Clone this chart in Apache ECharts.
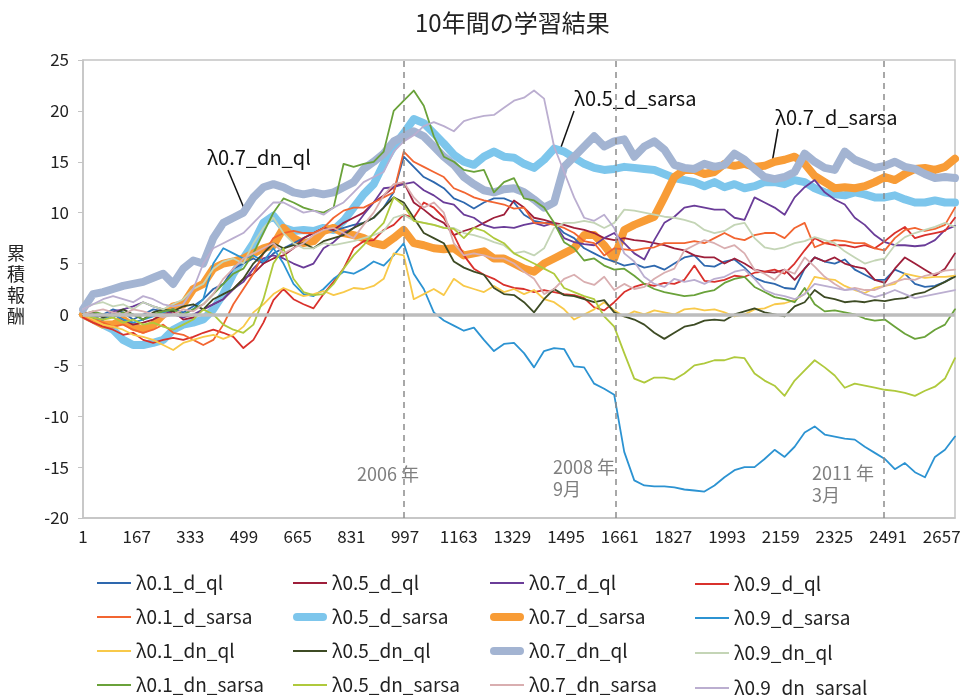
<!DOCTYPE html>
<html>
<head>
<meta charset="utf-8">
<title>10年間の学習結果</title>
<script src="https://cdn.jsdelivr.net/npm/echarts@6/dist/echarts.min.js"></script>
<style>
  html, body { margin: 0; padding: 0; background: #fff; }
  #chart { width: 968px; height: 695px; }
</style>
</head>
<body>
<div id="chart"></div>
<script>
// sampled trading days (1 based), one sample every 31 days
const days = [1,32,63,94,125,156,187,218,249,280,311,342,373,404,435,466,497,528,559,590,621,652,683,714,745,776,807,838,869,900,931,962,993,1024,1055,1086,1117,1148,1179,1210,1241,1272,1303,1334,1365,1396,1427,1458,1489,1520,1551,1582,1613,1644,1675,1706,1737,1768,1799,1830,1861,1892,1923,1954,1985,2016,2047,2078,2109,2140,2171,2202,2233,2264,2295,2326,2357,2388,2419,2450,2481,2512,2543,2574,2605,2636,2667,2698]

const d_ql_01 = [0,-0.3,0,0.5,0.2,-0.5,0,0.5,0.3,0.5, 0.2,0.8,1.5,2.5,3,4.5,5,5.5,5,6, 6.5,7,7.5,8,8.5,8.2,8.5,8.8,9,9.5, 10.5,12,15.5,14.5,13.5,13,12.4,11.4,11,10.4, 11,11.4,11.4,11,9.8,9.2,9,9,8,7.5, 6.5,6,5.5,5.2,4.8,5,4.6,4.8,4.4,5, 5.6,5.8,4.8,4.7,5.2,5.4,4.6,3.6,3.2,3, 2.6,2.5,4.5,5.6,5.2,5,5.4,4.4,3.9,3.4, 3.4,4.4,4,3,2.7,2.8,3.2,3.8]
const d_ql_05 = [0,-0.3,-0.5,0,-0.5,-1,-0.8,-0.5,0,0.3, -0.5,-0.3,0.5,1,1.5,2.5,3.5,4,5,5.5, 5.8,6.5,7.5,8,8.5,8.3,9,9.5,10,11, 11.7,12.5,13,11,10.3,9.5,9,7.8,8.2,8.5, 9,9.5,9.8,11.2,10.5,9.5,9.3,9,8.8,8.5, 8.3,8,7.5,7.3,7.5,7.3,7.2,7,6.8,6.5, 6.3,5.8,5.6,5.6,5,5.5,5,4.4,4.2,4.1, 4.4,3.4,4.5,5.6,5.2,5.6,5,4.7,4.5,3.4, 3.1,4.5,5.6,5,4.4,3.8,4.5,6]
const d_ql_07 = [0,0.2,-0.3,0.3,0.5,0.8,1.2,0.8,0.5,0, -0.3,0,0.5,1,1.5,2.5,3.2,4.5,5.5,5.8, 5.5,5,4.6,5,6.5,7.1,8,8.5,9.8,11, 12.4,12.5,12.8,13,12.2,11.7,11,10.8,9.8,9.5, 8.8,8.5,8.6,8.5,8.8,9,8.7,9,7.5,7.1, 6.9,6.8,7.5,8,7,6,5.4,7.3,9,9.6, 10.5,10.7,10.5,10.3,10.3,9.5,9.3,11.5,11,10.5, 9.8,11.5,12.5,13.2,12,11.3,10.8,9.5,8.8,7.8, 7.1,6.8,6.8,6.7,6.8,7.3,8.3,8.7]
const d_ql_09 = [-0.3,-0.8,-1.2,-1.5,-2,-1.8,-2.5,-2.8,-2.5,-2.3, -2.5,-2.2,-1.8,-1.5,-1.8,-2.2,-3.3,-2.5,-0.8,1.4, 2.5,1.5,1,0.6,2,3.2,4.5,6.5,7.2,7.3, 8.3,8.8,9.8,9.5,11,10.5,9.5,7.8,5.8,4.5, 3.9,3.5,2.9,2.6,2.5,2.2,2.4,2.2,2,1.9, 1.6,0.7,0.4,1.2,2.2,2.7,3,2.8,3.1,3, 3.4,4.8,3.3,3.2,3.4,3.8,3.7,4.1,4.2,4.4, 4,5,6.3,7.5,7,6.8,6.8,6.6,6.8,6.5, 7.2,8,8.6,7.5,7.8,8,8.2,9.5]
const d_sarsa_01 = [0,-0.5,-0.8,-1.2,-1,-1.5,-1.8,-1.5,-1,-1.8, -2,-2.5,-3,-2.5,-1,1,2.5,4,6,7.5, 8,8.2,8,8,8.5,9.5,10.2,10.5,10.5,11, 11.5,12,16,15,14.5,14,13.5,12.4,12,11.5, 11.2,11,10.8,10.4,10.5,9,9,8.8,8.5,8, 7.2,7,5.8,6.5,6.4,6.3,6.5,6.6,7,7, 7,7.2,7,7.5,8,7.5,7.3,7.8,8,8, 7.5,8.5,9,6.6,7,7.3,7.2,7,7,6.5, 6.3,7.5,8.3,8.5,8.2,8.4,8.8,10.5]
const d_sarsa_05 = [0,-0.5,-1,-1.5,-2.5,-3,-3,-2.8,-2.5,-1.5, -1,-0.8,-0.5,0.5,2,4,5.5,7,9,9.7, 8.5,8.2,8.3,8.2,8.5,8.3,9.2,10.5,11.8,12.8, 14.8,16.5,17.8,19.2,18.8,17.8,16.8,15.7,15,14.7, 15.5,16,15.5,15.4,14.8,14.4,15.2,16.3,16,15.4, 14.8,14.4,14.2,14.3,14.5,14.4,14.3,14.2,13.8,13.4, 13.2,13,12.6,13,12.5,12.8,12.4,12.6,13,13, 12.8,13.2,13,12.4,12,11.8,11.7,12,11.8,11.5, 11.5,11.7,11.3,11,11,11.2,11,11]
const d_sarsa_07 = [0,-0.5,-1,-1,-0.5,-1.2,-1.5,-1,0,0.8, 1,2.5,3,4.5,5,5.2,5.5,6,6.5,6.8, 8.5,7.5,7,7.2,8.2,8.5,8,7.8,7.5,7, 6.8,7.5,8.3,7,6.8,6.5,6.4,6.5,5.8,6, 6.2,5.5,5.5,5,4.5,4.2,5,5.5,6,6.5, 7.8,7.8,6.8,5.5,8.3,8.8,9.2,9.6,11.5,13.5, 14.2,14.2,13.8,14,14.8,14.6,14.8,14.5,14.6,15, 15.2,15.5,14.8,13.6,13,12.4,12.5,12.4,12.6,13, 13.5,13.2,13.8,14.3,14.4,14.2,14.5,15.3]
const d_sarsa_09 = [0,-0.3,-0.5,0,-0.5,-0.8,-0.5,-0.2,0.2,0.5, 0,0.5,1.5,5,6.5,6,5.5,5.8,5.2,6.5, 5,3,2,1.8,2.5,3.5,4.2,4,4.5,5.2, 4.8,5.8,7,4,2.5,0.2,-0.6,-1.1,-1.6,-1.3, -2.5,-3.6,-2.9,-2.8,-3.8,-5.2,-3.6,-3.3,-3.4,-5.1, -5.2,-6.8,-7.3,-7.9,-13.5,-16.3,-16.8,-16.9,-16.9,-17, -17.2,-17.3,-17.4,-16.8,-16,-15.3,-15,-15,-14.2,-13.3, -14,-13,-11.6,-11,-11.8,-12,-12.2,-12.3,-13,-13.6, -14.2,-15.2,-14.6,-15.5,-16,-14,-13.3,-12]
const dn_ql_01 = [0,-0.5,-1,-1.2,-1.5,-2,-2.2,-2.5,-3,-3.5, -2.8,-2.5,-2.2,-2,-2.4,-2,-1.2,0.2,1,2, 2.6,2.2,1.8,2,2.3,1.9,2.2,2.6,2.5,2.8, 3.5,6,5.8,1.5,2,2.5,1.9,3.5,2.8,2.5, 2.2,2.8,2.2,2.5,2,2.4,1.5,1.2,0.5,-0.5, 0,0.5,1.2,0.4,-0.2,0.3,0,0.4,0.2,0, 0.5,0.6,0.4,0.5,0.2,-0.2,0,0.5,0.6,1, 1.1,1.4,2,3.7,3.5,3.4,2.8,2.4,2.1,2.6, 2.8,3,4,3.8,3.6,3.7,3.7,3.8]
const dn_ql_05 = [0,0.2,-0.3,0,0.5,0,-0.5,0.2,0.5,0.3, 0.8,1,0.5,1.5,2,2.5,3.5,5,6,7, 6.5,6.8,7,6.5,7.2,7.5,7.8,8.5,9,9.5, 10.5,11.5,11,9.5,8,7.5,7,5.2,4.6,4.2, 3.9,2.6,2,1.9,1.2,0.2,1.5,2.5,1.9,1.8, 1.5,1.2,1.4,0.2,-0.2,-0.5,-1,-1.8,-2.4,-1.8, -1.2,-1,-0.6,-0.5,-0.6,0,0.3,0.6,0.2,0, -0.2,0.8,1.2,2.4,1.7,1.5,1.2,1.3,1.2,1.4, 1.3,1.5,1.6,2,2.2,2.7,3.2,3.7]
const dn_ql_07 = [0.5,2,2.2,2.5,2.8,3,3.2,3.6,4,3, 4.5,5.3,5,7.5,9,9.5,10,11.5,12.5,12.8, 12.5,12,11.8,12,11.8,12,12.5,13,14.3,15, 15.8,17,17.5,18,17.5,16.5,15.5,14.7,13.5,12.8, 12.2,12,12.3,12.4,12,11.3,10.5,11,14.5,15.5, 16.5,17.5,16.5,17,17.2,15.5,16.5,17,16.2,14.7, 14.4,14.3,14.8,14.5,14.7,15.8,15.2,14.3,13.5,13.3, 13.5,14,15.8,15,14.4,14.2,16,15.2,14.8,14.4, 14.6,15,14.5,14.3,13.8,13.4,13.5,13.4]
const dn_ql_09 = [0.5,1,1.2,0.8,1,0.5,1.2,0.8,0.5,1, 1.5,2.5,3,4.5,5.2,5.5,5,7,8.5,9.5, 8,7,6.5,6.5,7,6.8,7,7.2,7.5,7.8, 8.2,9.5,9.8,9.2,9,8.8,8.5,8.5,8,7.8, 7.5,7.1,6.8,6,6.2,5.8,6.5,8.5,9,9, 9.2,9,8.5,9,10.3,10.2,10,9.8,9.6,9.5, 9.3,9,8.3,8,8.2,8.8,9,7.5,6.6,6.4, 6.6,7,7.2,7.6,7.3,7,6.2,5.6,5,5.3, 5.5,6.8,7.6,8,8.3,8.6,9,8.6]
const dn_sarsa_01 = [0,0.3,0,-0.3,0.2,0,-0.5,0,0.3,0.5, 0,0.5,1,2,3,4,4.5,6,8,10, 11.4,11,10.5,10.2,10,10.5,14.8,14.5,14.8,15, 16,20,21,22,20.5,17.5,15.5,15,14.2,14, 14.2,12,13,13.4,11.4,11.2,10.5,9,7.1,6.5, 5.3,5.5,4.8,4.4,4.5,3.8,3,2.5,2.2,2, 1.8,1.9,2.2,2.4,3.1,3.5,3.7,2.7,2.2,1.7, 1.5,1.2,2.6,1,0.3,0.4,0.2,0,-0.4,-0.6, -0.5,-1.2,-1.9,-2.4,-2.2,-1.5,-1,0.5]
const dn_sarsa_05 = [0,-0.3,-0.5,-0.3,-0.8,-0.5,-1,-0.8,-1.2,-1.5, -1,-0.5,0.5,0,-1,-1.5,-1.8,-1,1.5,5, 6.5,3.5,2.2,1.9,2,3,4.5,5.8,6.8,8, 9,11.5,10.7,9.2,9,8.8,8.5,8.4,7.5,8.5, 8.2,7.5,7,6,5.5,5,4.5,4,2.6,2.2, 1.8,1.5,-0.2,-1.2,-3.8,-6.3,-6.7,-6.2,-6.2,-6.4, -5.8,-5,-4.8,-4.5,-4.5,-4.2,-4.3,-5.8,-6.5,-7, -8,-6.5,-5.5,-4.5,-5.2,-6,-7.2,-6.8,-7,-7.2, -7.4,-7.5,-7.7,-8,-7.5,-7.1,-6.3,-4.3]
const dn_sarsa_07 = [0,0.3,0.5,0.2,0,0.5,0.3,0,-0.3,0, 0.5,0.3,1,2,3.5,4.5,5.5,6,6.5,7, 6,6.5,7,7.8,8.3,8.5,8,7.5,8.8,10, 11.7,12.8,13,11.5,10.5,11,10,7,5.8,6, 5.8,5.5,5.5,5,4.2,3.5,2,2.5,3.5,3.9, 3.2,2.9,3.7,2.4,3,2.5,2.7,3.5,4.1,4.5, 6.3,6.8,7.3,7,6.5,6.8,6,4.4,4,3.4, 4.4,4,5.6,4.7,3.7,3,2.4,2.6,2.4,2.4, 2.8,3.2,3.5,3.4,3.8,4,4.3,4.4]
const dn_sarsa_09 = [0.5,1,1.5,1.8,1.5,1.2,1.8,1.5,1,0.8, 1,2.5,5,6.5,7,7.5,8,9,10,11, 11,10.5,10,10.2,9.8,10.5,11,12,13,13.5, 14,16,17,17.6,18.5,18.9,18.5,18,19,19.3, 19.5,19.6,20.3,21,21.3,22,21.2,16.5,14,11.5, 9.5,9.2,9.8,8.5,6,5.2,3.7,3,2.7,3.5, 3.2,3.4,3,3.5,3.7,4.2,4.4,3.5,2.4,2, 1.8,1.5,2,3,2.8,2.6,2.4,2.5,2,1.7, 2,2.4,2,1.6,1.8,2,2.2,2.4]

const names = ['λ0.1_d_ql','λ0.5_d_ql','λ0.7_d_ql','λ0.9_d_ql',
  'λ0.1_d_sarsa','λ0.5_d_sarsa','λ0.7_d_sarsa','λ0.9_d_sarsa',
  'λ0.1_dn_ql','λ0.5_dn_ql','λ0.7_dn_ql','λ0.9_dn_ql',
  'λ0.1_dn_sarsa','λ0.5_dn_sarsa','λ0.7_dn_sarsa','λ0.9_dn_sarsal']
const values = [d_ql_01, d_ql_05, d_ql_07, d_ql_09,
  d_sarsa_01, d_sarsa_05, d_sarsa_07, d_sarsa_09,
  dn_ql_01, dn_ql_05, dn_ql_07, dn_ql_09,
  dn_sarsa_01, dn_sarsa_05, dn_sarsa_07, dn_sarsa_09]

// event markers (trading day index)
const eventDays = [994, 1650, 2479]
const eventLabels = ['2006 年', '2008 年\n9月', '2011 年\n3月']

const colors = ['#2E68AE','#9E1F3A','#6A3C98','#D9312C',
  '#F26531','#7DC6EC','#F89C36','#2C93D2',
  '#F8C94A','#3D4B24','#A3B4D2','#C4D5B6',
  '#6AA23A','#AFC93C','#D9AEB0','#BBAED0']
const thick = ['λ0.5_d_sarsa','λ0.7_d_sarsa','λ0.7_dn_ql']

const FONT = '"Noto Sans CJK JP", "Noto Sans", sans-serif'
const PILL = 'path://M4,0 L30,0 A4,4 0 0 1 30,8 L4,8 A4,4 0 0 1 4,0 Z'
const chart = echarts.init(document.getElementById('chart'))

let seriesTemp = []
for (let i in names) {
  let isThick = thick.indexOf(names[i]) > -1
  seriesTemp.push({
    name: names[i],
    type: 'line',
    symbol: 'none',
    showSymbol: false,
    z: isThick ? 2 : 3,
    color: colors[i],
    lineStyle: { width: isThick ? 8 : 1.8, cap: 'round', join: 'round' },
    data: values[i].map((v, k) => [days[k] - 1, v])
  })
}
// helper series that only carries the zero line and event lines
seriesTemp.push({
  name: 'marks',
  type: 'line',
  z: 1,
  data: [],
  markLine: {
    silent: true,
    symbol: 'none',
    label: { show: false },
    data: [
      { yAxis: 0, lineStyle: { color: '#bdbdbd', width: 3.5, type: 'solid' } }
    ].concat(eventDays.map(d => ({ xAxis: d - 1, lineStyle: { color: '#8c8c8c', width: 1.5, type: [6, 5] } })))
  }
})

// one legend per entry, laid out as 4 columns x 4 rows like the original
let legends = []
const colLeft = [92, 288, 485, 690]
const rowMid = [[583, 617, 651, 685], [583, 617, 651, 685], [583, 617, 651, 685], [584, 618, 653, 688]]
for (let i in names) {
  let c = i % 4
  let r = Math.floor(i / 4)
  let isThick = thick.indexOf(names[i]) > -1
  legends.push({
    left: colLeft[c],
    top: rowMid[c][r] - 16,
    itemWidth: 34,
    itemHeight: isThick ? 8 : 2,
    icon: isThick ? PILL : 'rect',
    selectedMode: false,
    textStyle: { fontSize: 19, lineHeight: 22, color: '#222', fontFamily: FONT },
    data: [names[i]]
  })
}

let graphics = [
  { type: 'text', left: 7, top: 243, style: { text: '累\n積\n報\n酬', fontSize: 18, lineHeight: 21, fill: '#222', fontFamily: FONT } }
]
const evX = [357, 553, 812]
const evY = [463, 456, 462]
for (let i in eventLabels) {
  graphics.push({ type: 'text', left: evX[i], top: evY[i], style: { text: eventLabels[i], fontSize: 18, lineHeight: 22, fill: '#7f7f7f', fontFamily: FONT } })
}
// callouts
const callouts = [
  { text: 'λ0.7_dn_ql', x: 207, y: 147, line: [228, 170, 246, 213] },
  { text: 'λ0.5_d_sarsa', x: 574, y: 88, line: [574, 111, 560, 150] },
  { text: 'λ0.7_d_sarsa', x: 775, y: 107, line: [778, 129, 772, 163] }
]
callouts.forEach(c => {
  graphics.push({ type: 'text', left: c.x, top: c.y, style: { text: c.text, fontSize: 20, fill: '#111', fontFamily: FONT } })
  graphics.push({ type: 'line', shape: { x1: c.line[0], y1: c.line[1], x2: c.line[2], y2: c.line[3] }, style: { stroke: '#111', lineWidth: 1.5 } })
})

let option = {
  animation: false,
  backgroundColor: '#fff',
  textStyle: { fontFamily: FONT },
  title: {
    text: '10年間の学習結果',
    left: 410,
    top: 6,
    textStyle: { fontSize: 24, fontWeight: 'normal', color: '#222', fontFamily: FONT }
  },
  grid: {
    left: 83, right: 13, top: 60, bottom: 177,
    show: true, borderColor: '#c4c4c4', borderWidth: 1.5
  },
  legend: legends,
  xAxis: {
    type: 'value',
    min: 0,
    max: 2697,
    interval: 166,
    axisLine: { onZero: false, lineStyle: { color: '#c4c4c4', width: 1.5 } },
    axisTick: { show: false },
    splitLine: { show: false },
    axisLabel: {
      margin: 10,
      fontSize: 17,
      color: '#222',
      showMaxLabel: false,
      formatter: v => String(v + 1)
    }
  },
  yAxis: {
    type: 'value',
    min: -20,
    max: 25,
    interval: 5,
    axisLine: { show: true, lineStyle: { color: '#c4c4c4', width: 1.5 } },
    axisTick: { show: true, length: 5, lineStyle: { color: '#c4c4c4' } },
    splitLine: { show: false },
    axisLabel: { margin: 14, fontSize: 17, color: '#222' }
  },
  graphic: graphics,
  series: seriesTemp
}
chart.setOption(option)
</script>
</body>
</html>
